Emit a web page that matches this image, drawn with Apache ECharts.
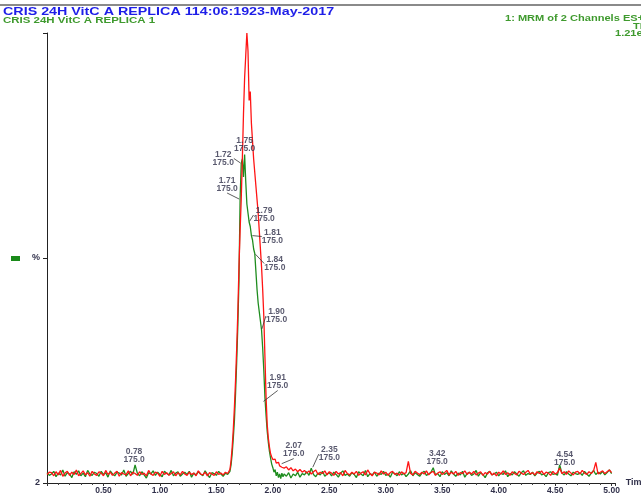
<!DOCTYPE html>
<html>
<head>
<meta charset="utf-8">
<script src="https://cdn.jsdelivr.net/npm/echarts@6/dist/echarts.min.js"></script>
<style>
  html, body { margin: 0; padding: 0; background: #fff; }
  #main { width: 641px; height: 495px; }
</style>
</head>
<body>
<div id="main"></div>
<script>
// retention time (min) shared by both traces
var times = [
  0.00,0.02,0.04,0.06,0.08,0.10,0.12,0.14,0.16,0.18,
  0.20,0.22,0.24,0.26,0.28,0.30,0.32,0.34,0.36,0.38,
  0.40,0.42,0.44,0.46,0.48,0.50,0.52,0.54,0.56,0.58,
  0.60,0.62,0.64,0.66,0.68,0.70,0.72,0.74,0.76,0.78,
  0.80,0.82,0.84,0.86,0.88,0.90,0.92,0.94,0.96,0.98,
  1.00,1.02,1.04,1.06,1.08,1.10,1.12,1.14,1.16,1.18,
  1.20,1.22,1.24,1.26,1.28,1.30,1.32,1.34,1.36,1.38,
  1.40,1.42,1.44,1.46,1.48,1.50,1.52,1.54,1.56,1.58,
  1.60,
  1.61,1.62,1.63,1.64,1.65,1.66,1.67,1.68,1.69,1.70,
  1.71,1.72,1.73,1.74,1.75,1.76,1.77,1.78,1.79,1.80,
  1.81,1.82,1.83,1.84,1.85,1.86,1.87,1.88,1.89,1.90,
  1.91,1.92,1.93,1.94,1.95,1.96,1.97,1.98,1.99,2.00,
  2.01,2.02,2.03,2.04,2.05,2.06,2.07,2.08,2.09,2.10,
  2.12,2.14,2.16,2.18,2.20,2.22,2.24,2.26,2.28,2.30,
  2.32,2.34,2.36,2.38,2.40,2.42,2.44,2.46,2.48,2.50,
  2.52,2.54,2.56,2.58,2.60,2.62,2.64,2.66,2.68,2.70,
  2.72,2.74,2.76,2.78,2.80,2.82,2.84,2.86,2.88,2.90,
  2.92,2.94,2.96,2.98,3.00,3.02,3.04,3.06,3.08,3.10,
  3.12,3.14,3.16,3.18,3.20,3.22,3.24,3.26,3.28,3.30,
  3.32,3.34,3.36,3.38,3.40,3.42,3.44,3.46,3.48,3.50,
  3.52,3.54,3.56,3.58,3.60,3.62,3.64,3.66,3.68,3.70,
  3.72,3.74,3.76,3.78,3.80,3.82,3.84,3.86,3.88,3.90,
  3.92,3.94,3.96,3.98,4.00,4.02,4.04,4.06,4.08,4.10,
  4.12,4.14,4.16,4.18,4.20,4.22,4.24,4.26,4.28,4.30,
  4.32,4.34,4.36,4.38,4.40,4.42,4.44,4.46,4.48,4.50,
  4.52,4.54,4.56,4.58,4.60,4.62,4.64,4.66,4.68,4.70,
  4.72,4.74,4.76,4.78,4.80,4.82,4.84,4.86,4.88,4.90,
  4.92,4.94,4.96,4.98,5.00
];

// red trace (%)
var redSignal = [
  1.9,2.4,
  2.3,1.6,2.5,1.8,2.8,1.5,2.2,2.6,1.7,2.4,1.9,2.9,1.6,2.1,2.7,1.8,2.3,1.5,2.6,2.0,
  1.7,2.5,2.2,1.6,2.8,1.9,2.4,1.7,2.2,2.6,1.5,2.3,2.0,1.8,2.7,1.6,2.4,2.1,1.7,2.5,
  1.9,2.2,1.6,2.8,2.0,1.7,2.4,2.2,1.5,2.6,1.9,2.3,1.7,2.1,2.5,1.6,2.3,1.8,2.6,2.0,
  1.7,2.4,1.9,2.2,1.6,2.7,2.0,1.8,2.4,1.6,2.3,2.0,1.7,2.5,1.9,2.2,1.8,2.4,2.1,
  2.2,3.0,5,8,12,17,23,30,38,48,
  56,63,72,82,90,95,100,96,85,87,
  80,76,72,69,66,63,60,56,52,48,
  43,37,28,19,13,10,8,6.5,5.8,5.2,
  4.8,5.3,4.4,4.0,4.6,3.8,4.2,3.5,3.9,3.3,
  3.6,2.9,3.4,2.7,3.1,2.5,3.0,2.4,2.8,2.2,
  2.7,2.0,2.5,2.9,1.9,2.4,2.1,2.7,1.8,2.5,
  2.2,1.7,2.6,2.0,2.3,1.6,2.8,2.1,1.8,2.4,
  2.0,2.6,1.7,2.2,2.5,1.8,2.9,2.1,1.6,2.4,
  2.2,1.8,2.7,2.0,2.4,1.7,2.3,2.6,1.9,2.2,
  1.7,2.5,2.0,2.3,4.8,2.1,1.8,2.6,2.2,1.9,
  2.4,2.0,2.7,1.8,2.3,2.6,1.7,2.2,2.5,1.9,
  2.3,2.8,1.8,2.4,2.0,2.6,1.7,2.3,2.1,2.7,
  1.9,2.4,2.0,2.6,1.8,2.2,2.5,1.7,2.3,2.0,
  2.6,1.8,2.2,1.6,2.4,2.0,2.7,1.9,2.3,1.7,
  2.5,2.1,1.8,2.6,2.2,1.9,2.4,2.8,2.0,2.3,
  1.8,2.5,2.1,2.7,1.9,2.4,2.2,1.7,2.6,2.0,
  2.3,3.3,2.1,2.5,1.9,2.7,2.2,1.8,2.4,2.6,
  2.0,2.8,2.2,1.9,2.5,2.1,2.7,4.6,2.0,2.4,
  2.7,2.1,2.5,2.9,2.3
];

// green trace (%)
var greenSignal = [
  2.3,1.7,
  2.0,2.6,1.4,2.2,1.8,2.9,1.5,2.3,2.0,1.2,2.5,1.9,2.7,1.6,2.2,1.4,2.8,2.0,1.7,2.4,
  2.1,1.5,2.6,1.9,2.3,1.3,2.7,2.0,1.6,2.4,2.2,1.8,2.9,1.5,2.1,2.6,1.9,4.0,2.2,1.6,
  2.5,1.8,1.1,2.3,2.0,2.7,1.7,2.4,1.9,1.4,2.6,2.1,1.8,2.8,1.6,2.2,2.5,1.5,2.0,2.4,
  1.9,2.6,1.3,2.2,1.8,2.5,2.0,1.6,2.7,1.9,1.2,2.3,2.1,1.7,2.6,2.0,1.5,2.2,1.9,
  2.0,2.6,4,6.5,10,14,20,27,35,45,
  63,71,72,68,73,67,62,60,58,57,
  55,54,52,51,47,43,40,38,36,34,
  30,25,19,15,11.5,9,7,5.5,4.2,3.4,
  2.4,3.0,1.6,2.4,1.2,2.0,1.0,2.2,1.4,2.0,
  1.5,2.3,1.1,2.0,1.6,2.4,1.3,2.1,1.8,2.5,
  1.7,3.3,1.9,1.4,2.2,1.8,2.6,1.5,2.0,2.3,
  1.6,2.4,1.9,1.3,2.2,2.7,1.7,2.0,1.5,2.3,
  1.9,1.2,2.5,2.0,1.6,2.8,1.4,2.1,1.8,2.4,
  1.5,2.2,1.9,2.6,1.7,2.0,1.3,2.4,2.1,1.6,
  2.5,1.8,2.2,1.4,2.0,2.7,1.6,2.3,1.9,1.5,
  2.2,2.6,1.7,2.0,2.4,3.4,1.8,2.1,1.4,2.5,
  1.9,2.3,1.6,2.7,2.0,1.5,2.2,1.8,2.6,1.3,
  2.1,2.4,1.7,2.0,2.8,1.5,2.3,1.9,1.2,2.2,
  2.6,1.8,2.0,2.4,1.6,2.2,1.9,2.7,1.4,2.1,
  1.8,2.5,2.0,1.5,2.3,2.7,1.7,2.1,1.9,2.4,
  1.6,2.2,2.6,1.8,2.0,1.4,2.3,2.5,1.9,2.1,
  1.7,4.0,2.2,1.8,2.5,2.0,1.6,2.4,2.1,1.9,
  2.3,1.7,2.6,2.0,1.5,2.2,2.8,1.9,2.4,2.0,
  2.6,1.8,2.3,2.9,2.1
];

// peak annotations
var peakTimes   = [0.78, 1.71, 1.72, 1.75, 1.79, 1.81, 1.84, 1.90, 1.91, 2.07, 2.35, 3.42, 4.54];
var peakHeights = [4.0, 63, 71, 73, 58, 55, 51, 34, 18, 4.2, 3.3, 3.4, 4.0];
var peakAreas   = ['175.0','175.0','175.0','175.0','175.0','175.0','175.0','175.0','175.0','175.0','175.0','175.0','175.0'];

var yTickLabels = { 0: '2', 50: '%' };

// label nudges (px) and whether a leader line is drawn
var labelShift = [[-1,3],[-13,-3],[-18,7],[0,2],[15,5],[21,13],[20,22],[15,-2],[15,-8],[13,-2],[17,-2],[4,2],[5,6]];
var hasLeader  = [false,true,true,false,true,true,true,true,true,true,true,false,false];

var chart = echarts.init(document.getElementById('main'));

function pairs(values) {
    return times.map(function (t, i) { return [t, values[i]]; });
}

function annotationSeries(leader) {
    var idx = [];
    peakTimes.forEach(function (t, i) { if (hasLeader[i] === leader) idx.push(i); });
    return {
        type: 'scatter',
        symbolSize: 2,
        silent: true,
        z: 5,
        itemStyle: { color: 'rgba(0,0,0,0)' },
        data: idx.map(function (i) {
            return { value: [peakTimes[i], peakHeights[i]], name: peakTimes[i].toFixed(2) + '\n' + peakAreas[i] };
        }),
        label: {
            show: true,
            position: 'top',
            distance: 3,
            formatter: '{b}',
            fontFamily: 'Arial',
            fontSize: 8.5,
            fontWeight: 'bold',
            lineHeight: 8,
            color: '#30304a'
        },
        labelLine: { show: leader, lineStyle: { color: '#333', width: 0.8 } },
        labelLayout: function (p) {
            var s = labelShift[idx[p.dataIndex]];
            return { dx: s[0], dy: s[1] };
        }
    };
}

var option = {
    animation: false,
    backgroundColor: '#fff',
    grid: { left: 47, right: 26, top: 33, bottom: 12, containLabel: false, outerBoundsMode: 'none' },
    xAxis: {
        type: 'value',
        min: 0,
        max: 5.03,
        interval: 0.5,
        name: 'Time',
        nameLocation: 'end',
        nameGap: 4,
        nameTextStyle: { color: '#30304a', fontSize: 9, fontFamily: 'Arial', fontWeight: 'bold' },
        splitLine: { show: false },
        axisLine: { lineStyle: { color: '#222', width: 1 } },
        axisTick: { length: 3, lineStyle: { color: '#333' } },
        minorTick: { show: true, splitNumber: 5, length: 2, lineStyle: { color: '#444' } },
        axisLabel: {
            margin: 3,
            fontSize: 8.5,
            fontWeight: 'bold',
            fontFamily: 'Arial',
            color: '#30304a',
            formatter: function (v) { return v === 0 ? '' : v.toFixed(2); }
        }
    },
    yAxis: {
        type: 'value',
        min: 0,
        max: 100,
        interval: 50,
        offset: 2,
        splitLine: { show: false },
        axisLine: { show: true, lineStyle: { color: '#222', width: 1 } },
        axisTick: { show: true, length: 4, lineStyle: { color: '#222' } },
        axisLabel: {
            margin: 5,
            fontSize: 9,
            fontWeight: 'bold',
            fontFamily: 'Arial',
            color: '#30304a',
            formatter: function (v) { return yTickLabels[v] || ''; }
        }
    },
    graphic: [
        { type: 'line', shape: { x1: 0, y1: 5, x2: 641, y2: 5 }, style: { stroke: '#8a8a8a', lineWidth: 2 } },
        { type: 'text', x: 3, y: 6, scaleX: 1.3,
          style: { text: 'CRIS 24H VitC A REPLICA 114:06:1923-May-2017', fill: '#1e1ee8', font: 'bold 11px Arial' } },
        { type: 'text', x: 3, y: 16.5, scaleX: 1.35,
          style: { text: 'CRIS 24H VitC A REPLICA 1', fill: '#3f9a2e', font: 'bold 8.5px Arial' } },
        { type: 'text', x: 505, y: 14, scaleX: 1.3,
          style: { text: '1: MRM of 2 Channels ES+', fill: '#3f9a2e', font: 'bold 8.5px Arial' } },
        { type: 'text', x: 633, y: 22, scaleX: 1.3,
          style: { text: 'TIC', fill: '#3f9a2e', font: 'bold 8.5px Arial' } },
        { type: 'text', x: 615, y: 29.5, scaleX: 1.3,
          style: { text: '1.21e6', fill: '#3f9a2e', font: 'bold 8.5px Arial' } },
        { type: 'rect', shape: { x: 11, y: 256, width: 9, height: 5 }, style: { fill: '#1a8a1a' } }
    ],
    series: [
        {
            name: 'green',
            type: 'line',
            data: pairs(greenSignal),
            showSymbol: false,
            sampling: 'none',
            lineStyle: { color: '#1e8c1e', width: 1.3 },
            z: 2
        },
        {
            name: 'red',
            type: 'line',
            data: pairs(redSignal),
            showSymbol: false,
            sampling: 'none',
            lineStyle: { color: '#ff1414', width: 1.3 },
            z: 3
        },
        annotationSeries(true),
        annotationSeries(false)
    ]
};

chart.setOption(option);
</script>
</body>
</html>
